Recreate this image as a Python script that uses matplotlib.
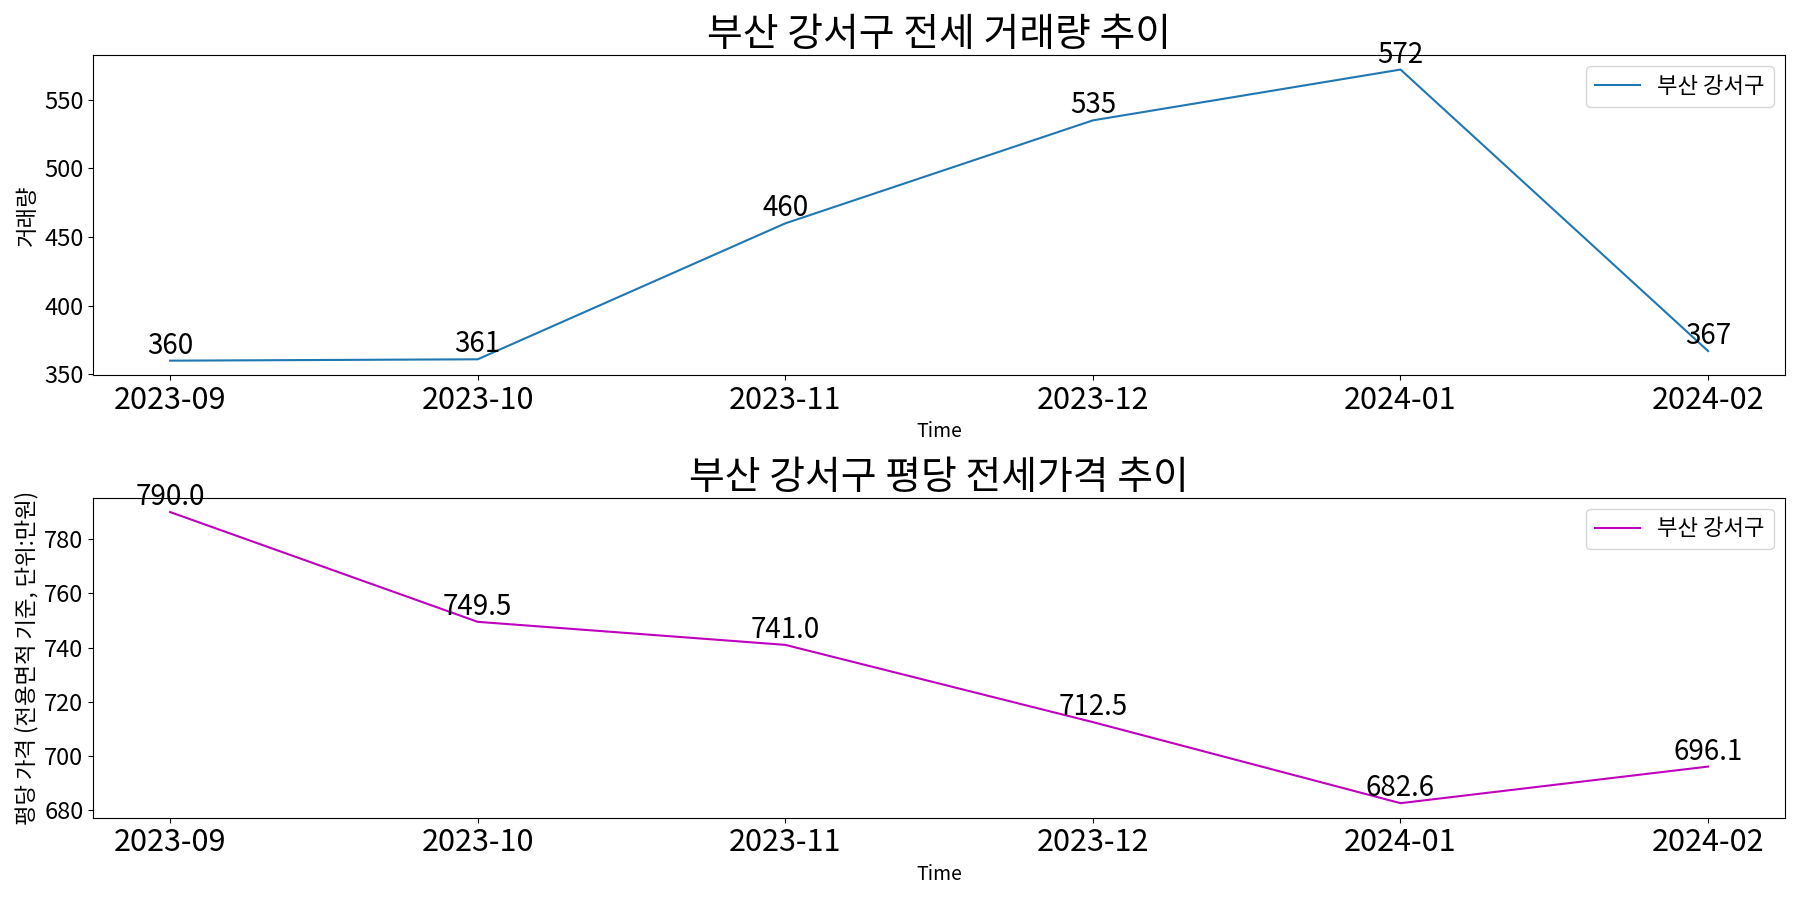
import matplotlib
matplotlib.use('Agg')
from matplotlib import pyplot as plt

plt.rcParams['font.family'] = ['Noto Sans CJK KR', 'DejaVu Sans']
plt.rcParams['axes.unicode_minus'] = False

months = ['2023-09', '2023-10', '2023-11', '2023-12', '2024-01', '2024-02']
volume = [360, 361, 460, 535, 572, 367]
price = [790.0, 749.5, 741.0, 712.5, 682.6, 696.1]
region = '부산 강서구'

fig, (ax1, ax2) = plt.subplots(2, 1, figsize=(18, 9), dpi=100)

# 거래량
ax1.plot(months, volume, label=region)
for x, y in zip(months, volume):
    ax1.text(x, y, str(y), ha='center', va='bottom', fontsize=20)
ax1.set_title(region + ' 전세 거래량 추이', fontsize=28)
ax1.set_xlabel('Time', fontsize=14)
ax1.set_ylabel('거래량', fontsize=16)
ax1.tick_params(axis='x', labelsize=22)
ax1.tick_params(axis='y', labelsize=17)
ax1.legend(fontsize=16, loc='upper right')

# 평당 가격
ax2.plot(months, price, color='m', label=region)
for x, y in zip(months, price):
    ax2.text(x, y, f'{y:.1f}', ha='center', va='bottom', fontsize=20)
ax2.set_title(region + ' 평당 전세가격 추이', fontsize=28)
ax2.set_xlabel('Time', fontsize=14)
ax2.set_ylabel('평당 가격 (전용면적 기준, 단위:만원)', fontsize=16)
ax2.tick_params(axis='x', labelsize=22)
ax2.tick_params(axis='y', labelsize=17)
ax2.legend(fontsize=16, loc='upper right')

plt.tight_layout()
plt.savefig('out.png')
